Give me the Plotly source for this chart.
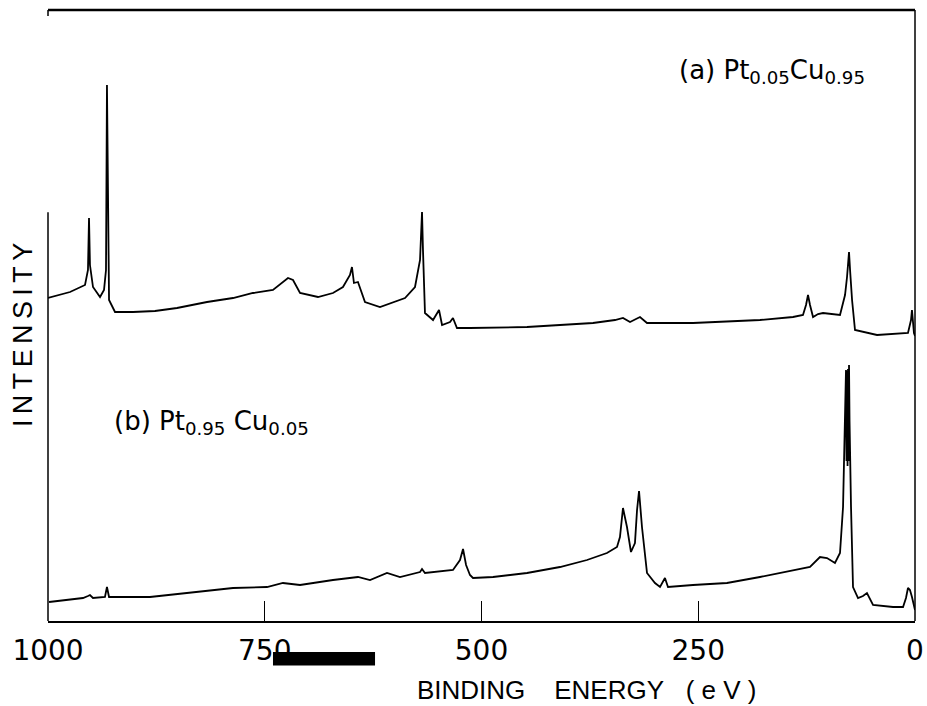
import plotly.graph_objects as go

# Spectrum (a) Pt0.05Cu0.95 : binding energy (eV) and intensity (arb. units, offset)
be_a = [1000, 974.6, 957.3, 953.9, 952.7, 951.6, 948.1, 940.0, 935.4, 933.1, 932.0, 930.8, 929.6,
        922.7, 902.0, 876.6, 851.2, 816.6, 786.6, 763.6, 740.5, 723.2, 717.4, 709.3, 688.6, 671.3,
        659.8, 651.7, 649.4, 647.1, 642.5, 634.4, 617.1, 588.2, 576.7, 570.9, 568.6, 567.5, 565.2,
        555.9, 549.0, 545.5, 536.3, 532.9, 528.3, 513.3, 447.5, 371.4, 346.0, 336.8, 328.7, 317.2,
        309.1, 256.1, 178.8, 140.7, 129.2, 125.7, 123.4, 121.1, 117.6, 111.8, 106.1, 86.5, 80.7,
        78.4, 76.1, 74.9, 72.6, 69.2, 43.8, 8.1, 4.6, 3.5, 1.2, 0]
int_a = [323, 329, 336, 351, 403, 356, 334, 324, 331, 351, 536, 421, 321,
         309, 309, 310, 313, 319, 323, 328, 331, 343, 341, 328, 324, 328,
         334, 346, 354, 338, 339, 319, 314, 323, 334, 361, 409, 371, 308,
         301, 311, 296, 299, 303, 293, 293, 294, 298, 301, 303, 299, 304,
         298, 298, 301, 304, 306, 316, 326, 316, 304, 307, 308, 306, 326,
         344, 369, 351, 321, 291, 286, 288, 301, 311, 288, 285]

# Spectrum (b) Pt0.95Cu0.05
be_b = [998.8, 959.6, 953.9, 951.6, 948.1, 934.3, 932.0, 929.6, 882.4, 824.7, 786.6, 747.4, 729.0,
        709.3, 671.3, 642.5, 628.6, 609.0, 594.0, 570.9, 568.6, 565.2, 532.9, 524.8, 521.3, 517.8,
        513.3, 509.8, 486.7, 447.5, 409.5, 378.3, 355.3, 343.7, 340.3, 336.8, 332.2, 327.6, 323.0,
        320.6, 318.3, 314.9, 309.1, 299.9, 294.1, 288.4, 284.9, 256.1, 216.9, 178.8, 140.7, 121.1,
        109.6, 101.5, 92.3, 86.5, 83.0, 80.7, 80.2, 79.6, 79.0, 78.4, 77.8, 77.3, 76.7, 76.1, 75.5,
        74.9, 73.8, 71.5, 65.7, 60.0,
        55.4, 48.4, 25.4, 13.8, 10.4, 8.1, 5.8, 3.5, 1.2, 0]
int_b = [19, 23, 25, 26, 23, 24, 34, 24, 24, 29, 33, 34, 38,
         36, 41, 44, 41, 48, 44, 49, 52, 48, 51, 61, 72, 56,
         46, 43, 44, 48, 54, 61, 68, 74, 84, 113, 94, 69, 78,
         111, 130, 94, 48, 38, 34, 43, 34, 36, 38, 44, 51, 54,
         64, 63, 58, 68, 114, 201, 232, 251, 160, 250, 155, 252, 160, 256, 200,
         161, 114, 34, 23, 25,
         28, 16, 14, 14, 23, 33, 31, 24, 14, 11]

tick_vals = [1000, 750, 500, 250, 0]
tick_text = ["1000", "750", "500", "250", "0"]

FONT = "Liberation Sans, Arial, sans-serif"
WIDE = "DejaVu Sans, sans-serif"

fig = go.Figure()
fig.add_trace(go.Scatter(x=be_a, y=int_a, mode="lines",
                         line=dict(color="black", width=1.8), showlegend=False))
fig.add_trace(go.Scatter(x=be_b, y=int_b, mode="lines",
                         line=dict(color="black", width=1.8), showlegend=False))

fig.update_layout(
    width=927, height=706,
    margin=dict(l=48, r=12, t=10, b=85, autoexpand=False),
    paper_bgcolor="white", plot_bgcolor="white",
    font=dict(family=FONT, color="black"),
    xaxis=dict(range=[1000, 0], tickvals=tick_vals, ticktext=tick_text,
               ticks="inside", ticklen=20, tickwidth=1.3, tickcolor="black",
               showline=True, linecolor="black", linewidth=1.6,
               showgrid=False, zeroline=False, automargin=False,
               tickfont=dict(size=28, family=WIDE), ticklabelstandoff=4),
    yaxis=dict(range=[0, 611], showticklabels=False, ticks="",
               showgrid=False, zeroline=False, showline=False, automargin=False),
)

frame = dict(color="black", width=1.5)
# top, right, left (partial) frame lines
fig.add_shape(type="line", xref="paper", yref="paper", x0=0, x1=1, y0=1, y1=1,
              line=dict(color="black", width=2.4))
fig.add_shape(type="line", xref="paper", yref="paper", x0=1, x1=1, y0=0, y1=1, line=frame)
fig.add_shape(type="line", xref="paper", yref="paper", x0=0, x1=0, y0=0, y1=0.669, line=frame)
fig.add_shape(type="line", xref="paper", yref="paper", x0=0, x1=0, y0=0.99, y1=1, line=frame)
# black redaction bar over the axis labels
fig.add_shape(type="rect", xref="paper", yref="paper", x0=0.2595, x1=0.3772,
              y0=-0.073, y1=-0.0507, fillcolor="black", line=dict(width=0))

fig.add_annotation(xref="paper", yref="paper", x=0.835, y=0.90, xanchor="center", yanchor="middle",
                   text="(a)&nbsp;Pt<sub>0.05</sub>Cu<sub>0.95</sub>", showarrow=False,
                   font=dict(size=26, family=WIDE))
fig.add_annotation(xref="paper", yref="paper", x=0.189, y=0.325, xanchor="center", yanchor="middle",
                   text="(b)&nbsp;Pt<sub>0.95</sub>&nbsp;Cu<sub>0.05</sub>", showarrow=False,
                   font=dict(size=26, family=WIDE))
fig.add_annotation(xref="paper", yref="paper", x=-0.0288, y=0.468, xanchor="center", yanchor="middle",
                   text="I\u2009N\u2009T\u2009E\u2009N\u2009S\u2009I\u2009T\u2009Y", textangle=-90,
                   showarrow=False, font=dict(size=27, family=FONT))
fig.add_annotation(xref="paper", yref="paper", x=0.622, y=-0.113, xanchor="center", yanchor="middle",
                   text="BINDING&nbsp;&nbsp;&nbsp; ENERGY&nbsp;&nbsp; (&nbsp;e&nbsp;V&nbsp;)",
                   showarrow=False, font=dict(size=26, family=FONT))

fig.write_html("out.html", config={"displayModeBar": False},
               post_script="document.body.style.margin='0px';document.body.style.overflow='hidden';")
